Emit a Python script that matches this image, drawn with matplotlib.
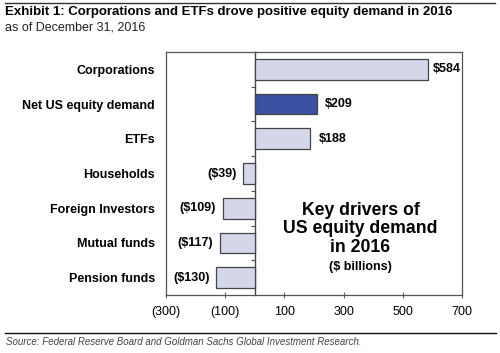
import matplotlib
matplotlib.use("Agg")
import matplotlib.pyplot as plt
from matplotlib.lines import Line2D

categories = ["Corporations", "Net US equity demand", "ETFs", "Households",
              "Foreign Investors", "Mutual funds", "Pension funds"]
values = [584, 209, 188, -39, -109, -117, -130]
xticks = [-300, -100, 100, 300, 500, 700]
xtick_labels = ["(300)", "(100)", "100", "300", "500", "700"]

plt.rcParams['font.family'] = ['Liberation Sans', 'DejaVu Sans']

fig = plt.figure(figsize=(5.0, 3.53), dpi=100)
ax = fig.add_axes([166/500, 1-295/353, 296/500, 243/353])

light = "#D4D7EA"
dark = "#3B50A0"
colors = [dark if c == "Net US equity demand" else light for c in categories]
ypos = list(range(len(categories)))
ax.barh(ypos, values, height=0.6, color=colors, edgecolor="#444444", linewidth=0.9, zorder=3)

for y, v in zip(ypos, values):
    if v >= 0:
        off = 4 if v > 400 else 6
        ax.annotate(f"${v}", (v, y), xytext=(off, 0), textcoords="offset points",
                    ha="left", va="center", fontsize=9, fontweight="bold")
    else:
        ax.annotate(f"(${-v})", (v, y), xytext=(-5, 0), textcoords="offset points",
                    ha="right", va="center", fontsize=9, fontweight="bold")

ax.set_xlim(-300, 700)
ax.set_ylim(len(categories) - 0.5, -0.5)
ax.set_xticks(xticks)
ax.set_xticklabels(xtick_labels, fontsize=9)
ax.set_yticks(ypos)
ax.set_yticklabels(categories, fontsize=9, fontweight="bold")
ax.tick_params(axis="y", length=0, pad=8)
ax.tick_params(axis="x", direction="inout", length=4, pad=6, color="#666666")
for s in ax.spines.values():
    s.set_color("#555555")
    s.set_linewidth(0.9)

sec = ax.secondary_yaxis(0.3)
sec.set_yticks([i + 0.5 for i in range(len(categories) - 1)])
sec.tick_params(length=3, labelleft=False, color="#555555")
sec.spines['left'].set_color("#444444")
sec.spines['left'].set_linewidth(1.0)

ax.text(0.657, 0.272, "Key drivers of\nUS equity demand\nin 2016", transform=ax.transAxes,
        ha="center", va="center", fontsize=12.7, fontweight="bold", linespacing=1.14)
ax.text(0.657, 0.115, "($ billions)", transform=ax.transAxes,
        ha="center", va="center", fontsize=9, fontweight="bold")

fig.text(5/500, 1-12/353, "Exhibit 1: Corporations and ETFs drove positive equity demand in 2016",
         fontsize=9.5, fontweight="bold", ha="left", va="center")
fig.text(5/500, 1-27/353, "as of December 31, 2016", fontsize=9, ha="left", va="center", color="#222222")
fig.text(6/500, 1-342/353, "Source: Federal Reserve Board and Goldman Sachs Global Investment Research.",
         fontsize=7, style="italic", ha="left", va="center", color="#444444")

fig.add_artist(Line2D([5/500, 495/500], [1-3/353, 1-3/353], color="#333333", lw=1.0))
fig.add_artist(Line2D([5/500, 496/500], [1-333/353, 1-333/353], color="#111111", lw=1.0))

fig.savefig("out.png", dpi=100)
